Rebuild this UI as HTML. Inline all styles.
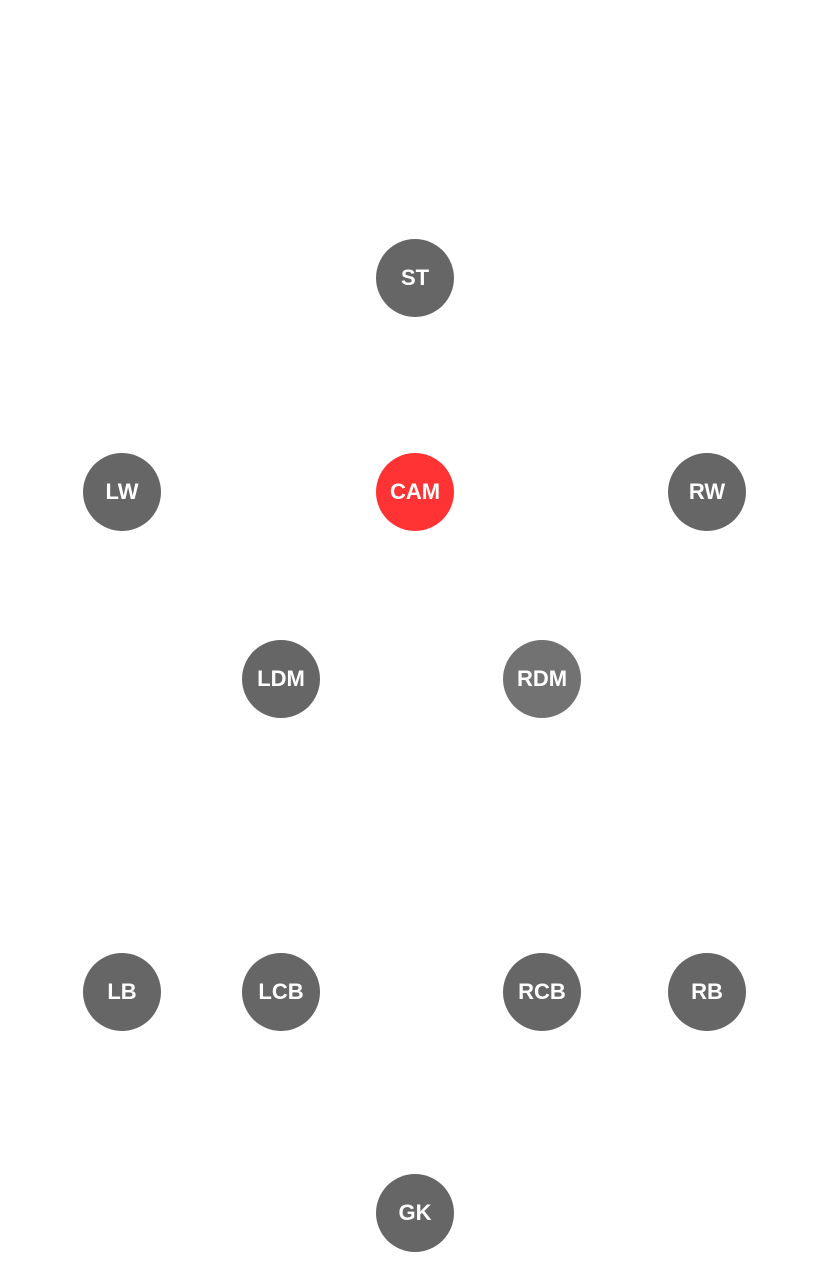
<!DOCTYPE html>
<html><head><meta charset="utf-8"><style>
html,body{margin:0;padding:0;background:#fff;}
body{width:829px;height:1280px;position:relative;overflow:hidden;}
.n{position:absolute;width:78px;height:78px;border-radius:50%;background:#666;color:#fff;
font-family:"Liberation Sans",sans-serif;font-weight:bold;font-size:22px;
display:flex;align-items:center;justify-content:center;transform:translate(-39px,-39px);}
</style></head><body>
<div class="n" style="left:415px;top:278px">ST</div>
<div class="n" style="left:122px;top:492px">LW</div>
<div class="n" style="left:415px;top:492px;background:#ff3333">CAM</div>
<div class="n" style="left:707px;top:492px">RW</div>
<div class="n" style="left:281px;top:679px">LDM</div>
<div class="n" style="left:542px;top:679px;background:#727272">RDM</div>
<div class="n" style="left:122px;top:992px">LB</div>
<div class="n" style="left:281px;top:992px">LCB</div>
<div class="n" style="left:542px;top:992px">RCB</div>
<div class="n" style="left:707px;top:992px">RB</div>
<div class="n" style="left:415px;top:1213px">GK</div>
</body></html>
